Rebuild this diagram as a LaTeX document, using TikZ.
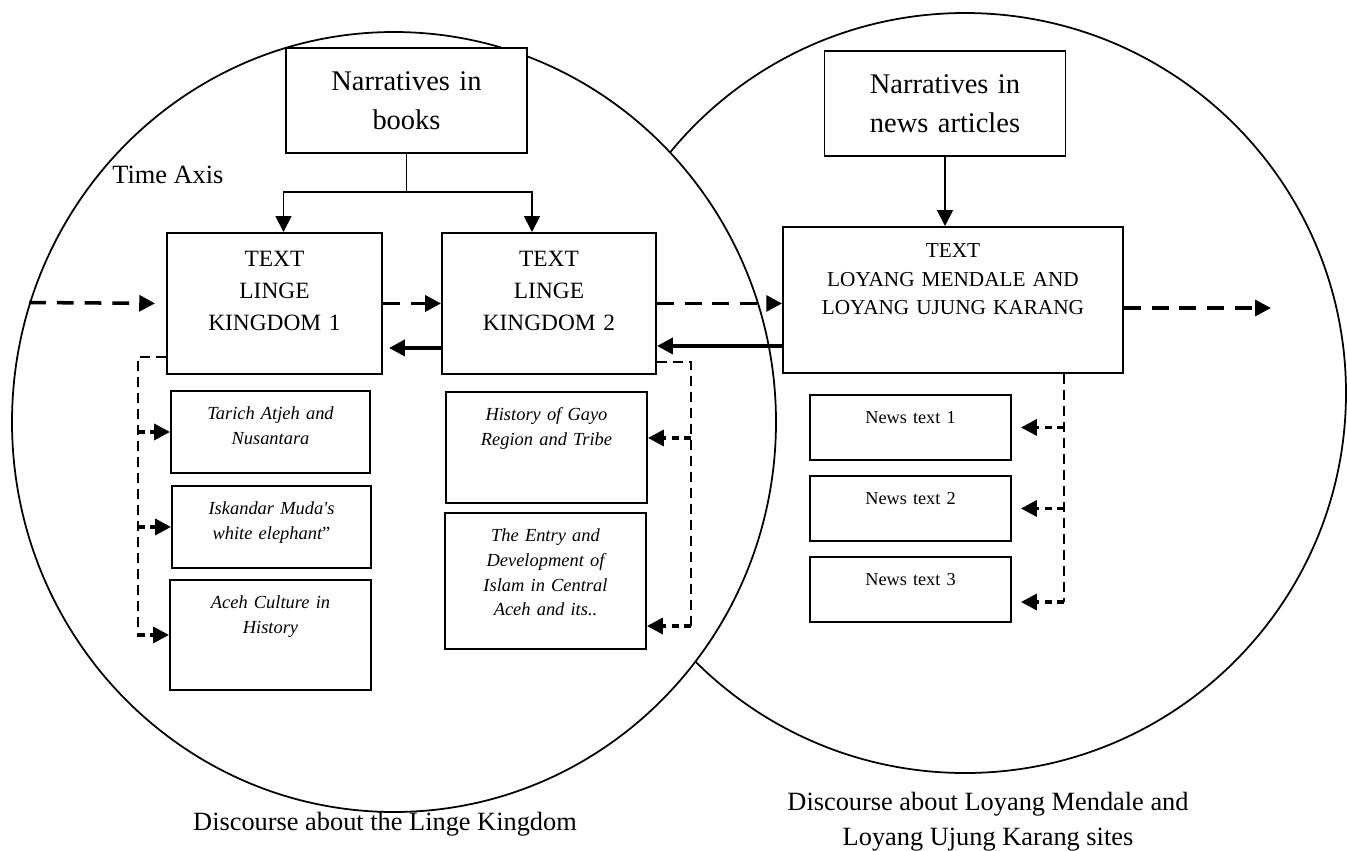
\documentclass[tikz,border=0pt]{standalone}
\usepackage{fontspec}
\setmainfont{Liberation Serif}
\usetikzlibrary{arrows.meta,positioning,calc}

\begin{document}
\begin{tikzpicture}[x=0.02cm,y=-0.02cm,
  box/.style={draw,fill=white,line width=1.1pt,inner sep=0pt,align=center},
  headbox/.style={box,minimum width=4.82cm,minimum height=2.1cm,text width=4.6cm,font=\fontsize{16.2}{22}\selectfont},
  kingbox/.style={box,anchor=north,text width=4.3cm,text height=0.68cm,text depth=2.14cm,font=\fontsize{13.3}{18.1}\selectfont},
  bookbox/.style={box,anchor=north,text width=3.98cm,text height=0.58cm,font=\fontsize{10.5}{14}\selectfont\itshape},
  newsbox/.style={box,anchor=north,text width=4.02cm,text height=0.58cm,text depth=0.72cm,font=\fontsize{10.4}{14}\selectfont},
  caption/.style={font=\fontsize{15}{19.8}\selectfont,align=center,inner sep=0pt},
  timeline/.style={->,line width=2pt,dash pattern=on 9.6pt off 6.2pt},
  backline/.style={->,line width=2.2pt},
  feed/.style={line width=0.9pt,dash pattern=on 5.7pt off 3.4pt},
  branch/.style={->,line width=2pt,dash pattern=on 4pt off 3pt},
  >={Triangle[length=9pt,width=9pt]}]
\useasboundingbox (0,0) rectangle (1347,850);
% the two discourses
\draw[line width=1pt,fill=white] (965,393) ellipse [x radius=381,y radius=380];
\draw[line width=1pt,fill=white] (394,422) ellipse [x radius=382,y radius=390];

\node[headbox] (books) at (406.5,100.5) {Narratives in\\books};
\node[headbox] (articles) at (945,103.5) {Narratives in\\news articles};
\node[kingbox] (kingdom1) at (274.5,232) {TEXT\\LINGE\\KINGDOM 1};
\node[kingbox,text width=4.28cm] (kingdom2) at (549,232) {TEXT\\LINGE\\KINGDOM 2};
\node[box,anchor=north,text width=6.8cm,text height=0.62cm,text depth=2.3cm,font=\fontsize{12.1}{16.2}\selectfont] (loyang) at (953,226) {TEXT\\LOYANG MENDALE AND\\LOYANG UJUNG KARANG};

% book texts
\node[bookbox,text depth=1.06cm] (tarich) at (270.5,390) {Tarich Atjeh and\\Nusantara};
\node[bookbox,text depth=1.06cm] (iskandar) at (271.5,485) {Iskandar Muda\textquotesingle s\\white elephant\upshape ”};
\node[bookbox,text depth=1.62cm,text width=4.02cm] (aceh) at (270.5,579) {Aceh Culture in\\History};
\node[bookbox,text depth=1.64cm,text width=4.02cm] (gayo) at (546.5,391) {History of Gayo\\Region and Tribe};
\node[bookbox,text depth=2.14cm,text width=4.02cm] (entry) at (545.5,512) {The Entry and\\Development of\\Islam in Central\\Aceh and its..};

% news texts
\foreach \i/\y in {1/394,2/475,3/556}
  \node[newsbox] (news\i) at (910.5,\y) {News text \i};

\node[caption,anchor=base west] (timeaxis) at (112,183) {Time Axis};
\node[caption,anchor=base] (lingecap) at (385,830) {Discourse about the Linge Kingdom};
\node[caption,anchor=base] (loyangcap) at (988,845) {Discourse about Loyang Mendale and\\Loyang Ujung Karang sites};

% sources
\coordinate (split) at (books.south |- 0,192);
\draw[line width=1pt] (books.south) -- (split);
\draw[->,line width=1pt] (split) -| ([xshift=0.18cm]kingdom1.north);
\draw[->,line width=1pt] (split) -| ([xshift=-0.34cm]kingdom2.north);
\draw[->,line width=1pt] (articles.south) -- (articles.south |- loyang.north);

% time axis
\coordinate (past) at (29,302.5);
\coordinate (future) at (1271,308);
\draw[timeline,shorten >=0.22cm] (past) -- (kingdom1.west);
\draw[timeline] (kingdom1.east) -- (kingdom2.west);
\draw[timeline] (kingdom2.east) -- (kingdom2.east -| loyang.west);
\draw[timeline] (loyang.east |- future) -- (future);
\draw[backline,shorten >=0.12cm] ([yshift=-0.89cm]kingdom2.west) -- ([yshift=-0.89cm]kingdom1.east);
\draw[backline] ([yshift=-0.92cm]loyang.west) -- ([yshift=-0.92cm]loyang.west -| kingdom2.east);

% links to the texts
\coordinate (leftrail) at (138,637);
\draw[feed] ([yshift=-1.07cm]kingdom1.west) -| (leftrail);
\foreach \target in {tarich,iskandar,aceh}
  \draw[branch] (\target.west -| leftrail) -- (\target.west);

\coordinate (midrail) at (691,626);
\coordinate (gayoin) at ([yshift=0.19cm]gayo.east);
\draw[feed] ([yshift=-1.17cm]kingdom2.east) -| (midrail);
\draw[branch] (gayoin -| midrail) -- (gayoin);
\draw[branch] (midrail) -- (midrail -| entry.east);

\coordinate (newsrail) at (1064,602);
\draw[feed] (loyang.south -| newsrail) -- (newsrail);
\foreach \i in {1,2}
  \draw[branch,shorten >=0.18cm] (news\i.east -| newsrail) -- (news\i.east);
\draw[branch,shorten >=0.18cm] (newsrail) -- (newsrail -| news3.east);
\end{tikzpicture}
\end{document}
